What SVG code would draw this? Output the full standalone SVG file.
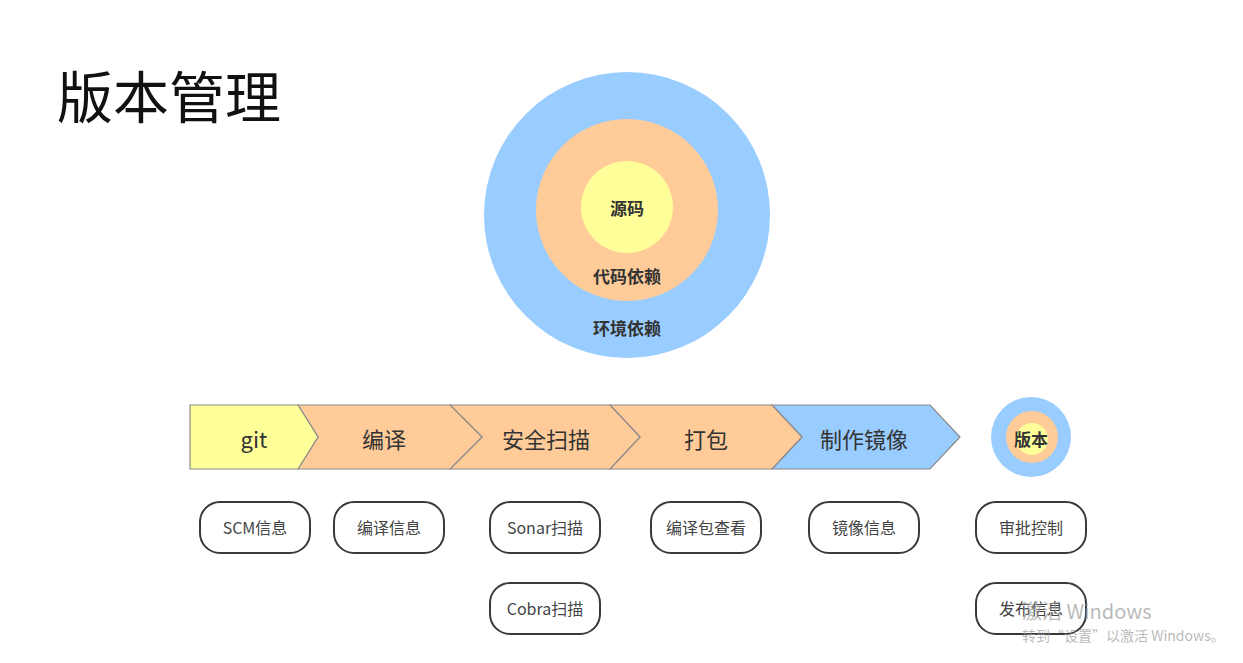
<svg xmlns="http://www.w3.org/2000/svg" width="1243" height="663" viewBox="0 0 1243 663">
<style>
.cjk{font-family:"Noto Sans CJK SC","Noto Sans",sans-serif}
.lbl{font-family:"Noto Sans CJK SC","Noto Sans",sans-serif;font-size:22px;fill:#333;text-anchor:middle;dominant-baseline:central}
.bold{font-family:"Noto Sans CJK SC",sans-serif;font-size:17px;font-weight:bold;fill:#333;text-anchor:middle;dominant-baseline:central}
.seg{stroke:#8a8a8a;stroke-width:1.2}
.y{fill:#ffff99}.o{fill:#ffcc99}.b{fill:#99ccff}
.box rect{fill:#fff;stroke:#3a3a3a;stroke-width:2}
.box text{font-family:"Noto Sans CJK SC","Noto Sans",sans-serif;font-size:16px;fill:#444;text-anchor:middle;dominant-baseline:central}
</style>
<rect width="1243" height="663" fill="#fff"/>
<text x="57" y="118" class="cjk" font-size="56" fill="#111">版本管理</text>
<g id="layers">
<circle cx="627" cy="215" r="143" class="b"/>
<circle cx="627" cy="210" r="91" class="o"/>
<circle cx="627" cy="207" r="46" class="y"/>
<text x="627" y="207" class="bold">源码</text>
<text x="627" y="275" class="bold">代码依赖</text>
<text x="627" y="327" class="bold">环境依赖</text>
</g>
<g id="pipeline">
<g id="step-image"><polygon class="seg b" points="772,405 930,405 960,437 930,469 772,469 802,437"/><text x="864" y="438" class="lbl">制作镜像</text></g>
<g id="step-pack"><polygon class="seg o" points="610,405 772,405 802,437 772,469 610,469 640,437"/><text x="706" y="438" class="lbl">打包</text></g>
<g id="step-scan"><polygon class="seg o" points="450,405 610,405 640,437 610,469 450,469 482,437"/><text x="546" y="438" class="lbl">安全扫描</text></g>
<g id="step-compile"><polygon class="seg o" points="298,405 450,405 482,437 450,469 298,469 318,437"/><text x="384" y="438" class="lbl">编译</text></g>
<g id="step-git"><polygon class="seg y" points="190,405 298,405 318,437 298,469 190,469"/><text x="254" y="438" class="lbl">git</text></g>
</g>
<g id="version">
<circle cx="1031" cy="437" r="40" class="b"/>
<circle cx="1032" cy="437" r="26" class="o"/>
<circle cx="1032" cy="439" r="16" class="y"/>
<text x="1031" y="438" class="bold">版本</text>
</g>
<g id="connectors"></g>
<g id="box-scm" class="box"><rect x="200" y="502" width="110" height="51" rx="20"/><text x="255" y="527">SCM信息</text></g>
<g id="box-compile" class="box"><rect x="334" y="502" width="110" height="51" rx="20"/><text x="389" y="527">编译信息</text></g>
<g id="box-sonar" class="box"><rect x="490" y="502" width="110" height="51" rx="20"/><text x="545" y="527">Sonar扫描</text></g>
<g id="box-cobra" class="box"><rect x="490" y="583" width="110" height="51" rx="20"/><text x="545" y="608">Cobra扫描</text></g>
<g id="box-pkg" class="box"><rect x="651" y="502" width="110" height="51" rx="20"/><text x="706" y="527">编译包查看</text></g>
<g id="box-img" class="box"><rect x="809" y="502" width="110" height="51" rx="20"/><text x="864" y="527">镜像信息</text></g>
<g id="box-approve" class="box"><rect x="976" y="502" width="110" height="51" rx="20"/><text x="1031" y="527">审批控制</text></g>
<g id="box-release" class="box"><rect x="976" y="583" width="110" height="51" rx="20"/><text x="1031" y="608">发布信息</text></g>
<g id="watermark" fill="#9a9a9a" fill-opacity="0.7" font-family="Noto Sans CJK SC,Noto Sans,sans-serif">
<text x="1022" y="619" font-size="20">激活 Windows</text>
<text x="1022" y="641" font-size="14">转到“设置”以激活 Windows。</text>
</g>
</svg>
